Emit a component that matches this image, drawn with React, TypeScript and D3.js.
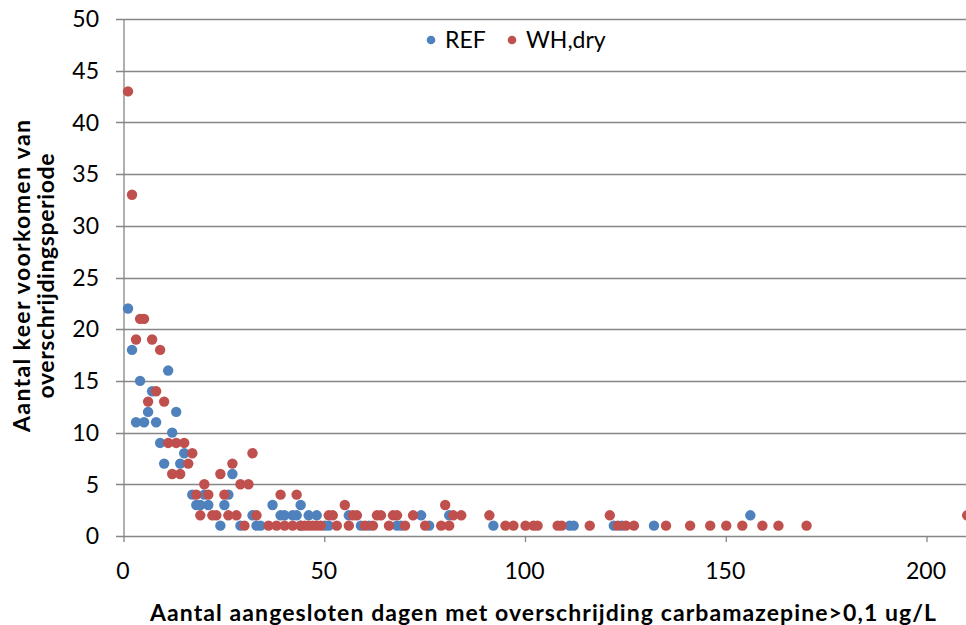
import React from "react";
import * as d3 from "d3";

const refX = [1, 2, 3, 4, 5, 6, 7, 8, 9, 10, 11, 12, 13, 14, 15, 17, 18, 19, 20, 21, 24, 25, 26, 27, 29, 32, 33, 34, 37, 39, 40, 42, 43, 44, 44, 46, 48, 50, 51, 56, 59, 61, 68, 69, 74, 76, 81, 92, 111, 112, 122, 124, 132, 156];
const refY = [22, 18, 11, 15, 11, 12, 14, 11, 9, 7, 16, 10, 12, 7, 8, 4, 3, 3, 4, 3, 1, 3, 4, 6, 1, 2, 1, 1, 3, 2, 2, 2, 2, 3, 1, 2, 2, 1, 1, 2, 1, 1, 1, 1, 2, 1, 2, 1, 1, 1, 1, 1, 1, 2];

const whX = [1, 2, 3, 4, 5, 6, 7, 8, 9, 10, 11, 12, 13, 14, 15, 16, 17, 18, 19, 20, 21, 22, 23, 24, 25, 26, 27, 28, 29, 30, 31, 32, 33, 36, 38, 39, 40, 42, 43, 44, 45, 46, 47, 48, 49, 51, 52, 53, 55, 56, 57, 58, 60, 62, 63, 64, 66, 67, 68, 70, 72, 75, 79, 80, 81, 82, 84, 91, 95, 97, 100, 102, 103, 108, 109, 116, 121, 123, 125, 127, 135, 141, 146, 150, 154, 159, 163, 170, 210];
const whY = [43, 33, 19, 21, 21, 13, 19, 14, 18, 13, 9, 6, 9, 6, 9, 7, 8, 4, 2, 5, 4, 2, 2, 6, 4, 2, 7, 2, 5, 1, 5, 8, 2, 1, 1, 4, 1, 1, 4, 1, 1, 1, 1, 1, 1, 2, 2, 1, 3, 1, 2, 2, 1, 1, 2, 2, 1, 2, 2, 1, 2, 1, 1, 3, 1, 2, 2, 2, 1, 1, 1, 1, 1, 1, 1, 1, 2, 1, 1, 1, 1, 1, 1, 1, 1, 1, 1, 1, 2];

const xTicks = [0, 50, 100, 150, 200];
const yTicks = [0, 5, 10, 15, 20, 25, 30, 35, 40, 45, 50];

const seriesNames = ["REF", "WH,dry"];
const seriesColors = ["#4F81BD", "#C0504D"];

const xTitle = "Aantal aangesloten dagen met overschrijding carbamazepine>0,1 ug/L";
const yTitle = ["Aantal keer voorkomen van", "overschrijdingsperiode"];

export default function App() {
  const W = 966;
  const H = 625;
  const x = d3.scaleLinear().domain([0, 210]).range([124, 124 + 210 * 4.015]);
  const y = d3.scaleLinear().domain([0, 50]).range([536, 19]);
  const grid = "#868686";
  const font = "Lato, 'Open Sans', sans-serif";
  const series = [
    refX.map((v, i) => [v, refY[i]]),
    whX.map((v, i) => [v, whY[i]]),
  ];
  return (
    <svg width={W} height={H} style={{ position: "absolute", left: 0, top: 0, background: "#fff" }} fontFamily={font}>
      <rect width={W} height={H} fill="#fff" />
      {yTicks.map((t) => (
        <g key={"g" + t}>
          <line x1={116} x2={W} y1={Math.round(y(t)) + 0.5} y2={Math.round(y(t)) + 0.5} stroke={grid} strokeWidth={1.3} />
          <text x={99} y={y(t)} dy="0.36em" textAnchor="end" fontSize={23} fill="#000">{t}</text>
        </g>
      ))}
      <line x1={x(0)} x2={x(0)} y1={y(50)} y2={y(0)} stroke={grid} strokeWidth={1.3} />
      {xTicks.map((t) => (
        <g key={"x" + t}>
          <line x1={x(t)} x2={x(t)} y1={y(0)} y2={y(0) + 6} stroke={grid} strokeWidth={1.3} />
          <text x={x(t) - 1} y={579} textAnchor="middle" fontSize={23} fill="#000">{t}</text>
        </g>
      ))}
      {series.map((pts, si) => (
        <g key={"s" + si} fill={seriesColors[si]}>
          {pts.map(([a, b], i) => (
            <circle key={i} cx={x(a)} cy={y(b)} r={5.2} />
          ))}
        </g>
      ))}
      {seriesNames.map((n, i) => {
        const lx = [431, 512][i];
        return (
          <g key={"l" + i}>
            <circle cx={lx} cy={40} r={4.3} fill={seriesColors[i]} />
            <text x={lx + 14} y={48} fontSize={23} fill="#000">{n}</text>
          </g>
        );
      })}
      <text x={543} y={621} textAnchor="middle" fontSize={23} fontWeight="bold" fill="#000" textLength={786} lengthAdjust="spacing">{xTitle}</text>
      <g transform="translate(0,276) rotate(-90)">
        <text x={0} y={30} textAnchor="middle" fontSize={23} fontWeight="bold" fill="#000" textLength={312} lengthAdjust="spacing">{yTitle[0]}</text>
        <text x={0} y={54} textAnchor="middle" fontSize={23} fontWeight="bold" fill="#000" textLength={245} lengthAdjust="spacing">{yTitle[1]}</text>
      </g>
    </svg>
  );
}
